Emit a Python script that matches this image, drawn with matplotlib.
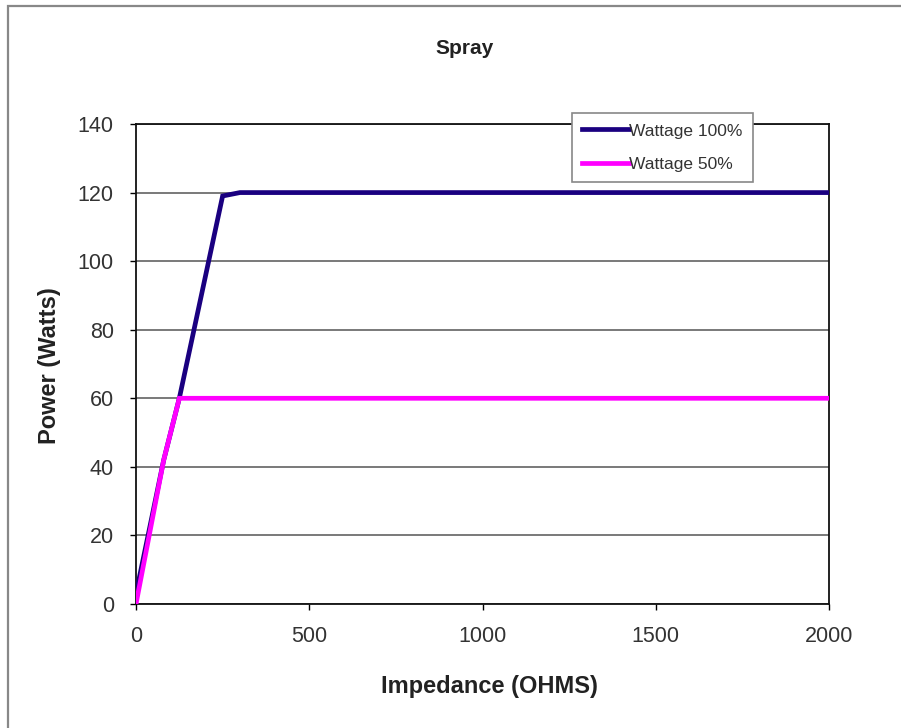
import matplotlib.pyplot as plt
from matplotlib.patches import Rectangle

# impedance sweep (ohms) and delivered power (watts)
impedance_full = [0, 80, 125, 250, 300, 500, 1000, 1500, 2000]
power_full = [3, 42, 60, 119, 120, 120, 120, 120, 120]

impedance_half = [0, 80, 125, 150, 200, 500, 1000, 1500, 2000]
power_half = [0, 42, 60, 60, 60, 60, 60, 60, 60]

x_ticks = [0, 500, 1000, 1500, 2000]
y_ticks = [0, 20, 40, 60, 80, 100, 120, 140]

plt.rcParams['font.family'] = ['Liberation Sans', 'DejaVu Sans']

fig = plt.figure(figsize=(9.01, 7.28), dpi=100)
ax = fig.add_axes([136/901, 1 - 604/728, 693/901, 480/728])

# outer frame of the chart area
fig.patches.append(Rectangle((8/901, -0.1), 1.2, 1.1 - 6/728, transform=fig.transFigure,
                             fill=False, edgecolor='#888888', linewidth=1.6))

ax.plot(impedance_full, power_full, color='#1a0080', linewidth=3.4, label='Wattage 100%',
        solid_joinstyle='miter', zorder=3)
ax.plot(impedance_half, power_half, color='#ff00ff', linewidth=3.4, label='Wattage 50%',
        solid_joinstyle='miter', zorder=4)

ax.set_xlim(0, 2000)
ax.set_ylim(0, 140)
ax.set_xticks(x_ticks)
ax.set_yticks(y_ticks)
ax.yaxis.grid(True, color='#555555', linewidth=1.1)
ax.set_axisbelow(True)
ax.tick_params(direction='out', length=4, width=1, pad=12, labelsize=15.5, labelcolor='#333333')
for s in ax.spines.values():
    s.set_color('#111111')
    s.set_linewidth(1.3)

fig.text(465/901, 1 - 48/728, 'Spray', ha='center', va='center', fontsize=15, fontweight='bold',
         color='#222222')
fig.text(489/901, 1 - 686/728, 'Impedance (OHMS)', ha='center', va='center', fontsize=17,
         fontweight='bold', color='#222222')
fig.text(50/901, 1 - 366/728, 'Power (Watts)', ha='center', va='center', rotation=90,
         fontsize=17, fontweight='bold', color='#222222')

leg = ax.legend(loc='upper left', bbox_to_anchor=(0.629, 1.023), fontsize=12.5, fancybox=False,
                edgecolor='#888888', framealpha=1, handlelength=2.7, handletextpad=0.0,
                labelspacing=1.05, borderpad=0.6, borderaxespad=0)
leg.get_frame().set_linewidth(1.2)
for t in leg.get_texts():
    t.set_color('#333333')

fig.savefig('out.png', dpi=100)
